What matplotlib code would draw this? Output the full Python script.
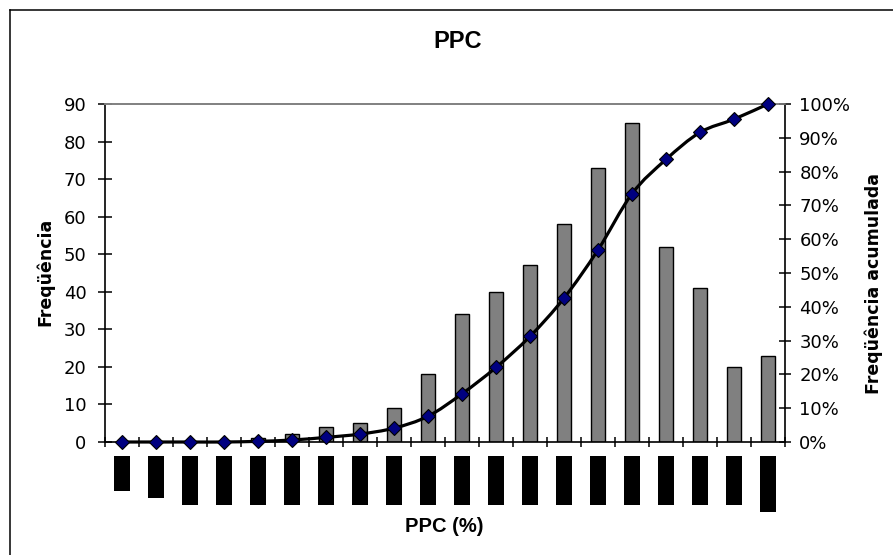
import matplotlib
matplotlib.use("Agg")  # headless
import matplotlib.pyplot as plt
import matplotlib.transforms as mtransforms
import numpy as np
from matplotlib.lines import Line2D
from matplotlib.patches import PathPatch
from matplotlib.path import Path
from matplotlib.ticker import FuncFormatter

W, H = 893, 555

# bins of PPC (their labels are blacked out in the source picture)
bins = ["0-5%", "5-10%", "10-15%", "15-20%", "20-25%", "25-30%", "30-35%", "35-40%",
        "40-45%", "45-50%", "50-55%", "55-60%", "60-65%", "65-70%", "70-75%", "75-80%",
        "80-85%", "85-90%", "90-95%", "95-100%"]
freq = [0, 0, 0, 0, 1, 2, 4, 5, 9, 18, 34, 40, 47, 58, 73, 85, 52, 41, 20, 23]
freq_ticks = [0, 10, 20, 30, 40, 50, 60, 70, 80, 90]
cum_ticks = [0.0, 0.1, 0.2, 0.3, 0.4, 0.5, 0.6, 0.7, 0.8, 0.9, 1.0]

TITLE = "PPC"
XLABEL = "PPC (%)"
YLABEL_L = "Freqüência"
YLABEL_R = "Freqüência acumulada"


def smooth_path(xs, ys):
    """Catmull-Rom style bezier through the points (like a spreadsheet 'smoothed line')."""
    pts = np.column_stack([xs, ys]).astype(float)
    n = len(pts)
    verts, codes = [pts[0]], [Path.MOVETO]
    for i in range(n - 1):
        p0 = pts[i - 1] if i > 0 else pts[i]
        p1, p2 = pts[i], pts[i + 1]
        p3 = pts[i + 2] if i + 2 < n else pts[i + 1]
        verts += [p1 + (p2 - p0) / 6, p2 - (p3 - p1) / 6, p2]
        codes += [Path.CURVE4] * 3
    return Path(verts, codes)


x = np.arange(len(freq))
cum = np.cumsum(freq) / np.sum(freq)

fig = plt.figure(figsize=(W / 100, H / 100), dpi=100)
ax = fig.add_axes([105 / W, 113 / H, 680 / W, 338 / H])
ax2 = ax.twinx()

ax.bar(x, freq, width=0.42, color='#808080', edgecolor='black', linewidth=1.0, zorder=2)
ax.set_xlim(-0.5, len(freq) - 0.5)
ax.set_ylim(0, 90)
ax.set_yticks(freq_ticks)
ax.set_xticks(np.arange(len(freq) + 1) - 0.5)
ax.set_xticklabels([])

ax2.set_ylim(0, 1)
ax2.set_yticks(cum_ticks)
ax2.yaxis.set_major_formatter(FuncFormatter(lambda v, _: f"{v * 100:.0f}%"))

ax2.add_patch(PathPatch(smooth_path(x, cum), fill=False, edgecolor='black',
                        linewidth=2.3, capstyle='round', joinstyle='round', clip_on=False))
ax2.plot(x, cum, linestyle='none', marker='D', markersize=7, markerfacecolor='#000080',
         markeredgecolor='black', markeredgewidth=0.8, clip_on=False, zorder=5)

for a in (ax, ax2):
    a.patch.set_visible(False)
    for s in a.spines.values():
        s.set_linewidth(1.2)
ax.spines['right'].set_visible(False)
ax.spines['top'].set_color('#808080')
ax2.spines['left'].set_visible(False)
ax2.spines['bottom'].set_visible(False)
ax2.spines['top'].set_color('#808080')

ax.tick_params(axis='y', direction='inout', length=9.5, width=1.1, labelsize=13, pad=8.5)
ax.tick_params(axis='x', direction='inout', length=7.5, width=1.1)
ax2.tick_params(axis='y', direction='inout', length=9, width=1.1, labelsize=13, pad=5.8)

# category labels: shown as solid black boxes, as in the source
trans = mtransforms.blended_transform_factory(ax.transData, fig.transFigure)
for xi, lab in zip(x, bins):
    ax.text(xi, (H - 459) / H, lab, transform=trans, rotation=90, ha='center', va='top',
            fontsize=8, color='black',
            bbox=dict(boxstyle='square,pad=0.27', facecolor='black', edgecolor='black', linewidth=0))

fig.text(458 / W, 1 - 42 / H, TITLE, ha='center', va='center', fontsize=17,
         fontweight='bold', family='Liberation Sans')
fig.text(444 / W, 1 - 527 / H, XLABEL, ha='center', va='center', fontsize=14.5,
         fontweight='bold', family='Liberation Sans')
fig.text(45 / W, 1 - 272 / H, YLABEL_L, ha='center', va='center', rotation=90,
         fontsize=12.5, fontweight='bold')
fig.text(874 / W, 1 - 283 / H, YLABEL_R, ha='center', va='center', rotation=90,
         fontsize=12.5, fontweight='bold')

# chart-area border (only the left and top edges are inside the picture)
fig.add_artist(Line2D([10 / W, 10 / W], [0, 1 - 9.5 / H], transform=fig.transFigure,
                      color='black', linewidth=1.1))
fig.add_artist(Line2D([10 / W, 1], [1 - 9.5 / H, 1 - 9.5 / H], transform=fig.transFigure,
                      color='black', linewidth=1.1))

fig.savefig("out.png", dpi=100)
